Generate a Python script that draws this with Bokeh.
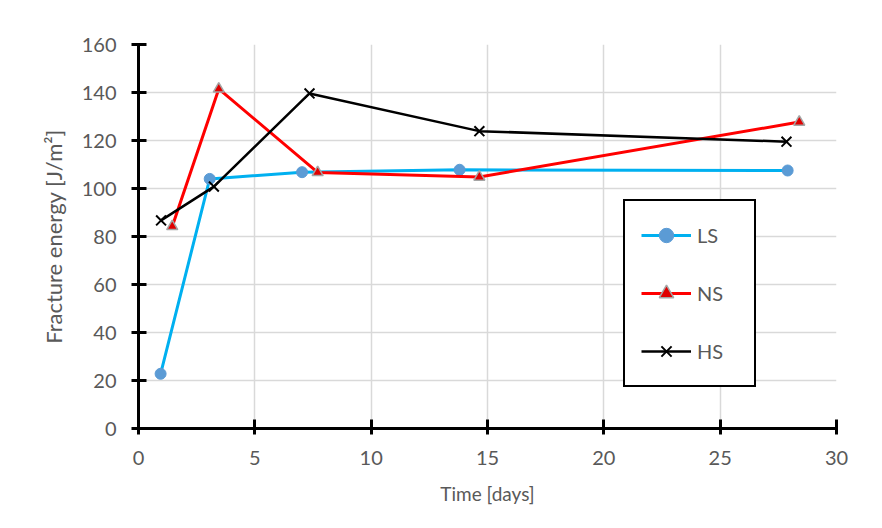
from bokeh.plotting import figure
from bokeh.models import Range1d, FixedTicker, Legend, LegendItem, BoxAnnotation
from bokeh.embed import file_html
from bokeh.resources import INLINE

# ---- data ----
ls_x = [0.95, 3.06, 7.03, 13.8, 27.9]
ls_y = [22.8, 104.0, 106.8, 107.8, 107.5]
ns_x = [1.45, 3.45, 7.7, 14.65, 28.4]
ns_y = [84.2, 141.5, 106.7, 104.8, 127.7]
hs_x = [0.97, 3.24, 7.35, 14.65, 27.85]
hs_y = [86.7, 100.8, 139.6, 123.9, 119.5]
x_ticks = [0, 5, 10, 15, 20, 25, 30]
y_ticks = [0, 20, 40, 60, 80, 100, 120, 140, 160]
series_names = ["LS", "NS", "HS"]

FONT = "Lato"
GRAY_TXT = "#595959"

p = figure(frame_width=698, frame_height=384,
           min_border_left=138, min_border_top=44,
           min_border_right=38, min_border_bottom=90,
           x_range=Range1d(0, 30), y_range=Range1d(0, 160),
           output_backend="svg", toolbar_location=None,
           background_fill_color="white", border_fill_color="white")
p.outline_line_color = None

# outer chart border (light gray)
p.add_layout(BoxAnnotation(left=9, right=1000, top=8, bottom=1000,
                           left_units="canvas", right_units="canvas",
                           top_units="canvas", bottom_units="canvas",
                           fill_alpha=0, line_color="#d9d9d9", line_width=1.5,
                           level="underlay"))

# grid
p.xgrid.ticker = FixedTicker(ticks=x_ticks)
p.ygrid.ticker = FixedTicker(ticks=y_ticks)
for g in (p.xgrid, p.ygrid):
    g.grid_line_color = "#d9d9d9"
    g.grid_line_width = 1.5

# axes
p.xaxis.ticker = FixedTicker(ticks=x_ticks)
p.yaxis.ticker = FixedTicker(ticks=y_ticks)
for ax in (p.xaxis, p.yaxis):
    ax.axis_line_color = "black"
    ax.axis_line_width = 3
    ax.major_tick_line_color = "black"
    ax.major_tick_line_width = 3
    ax.minor_tick_line_color = None
    ax.major_label_text_font = FONT
    ax.major_label_text_font_size = "20px"
    ax.major_label_text_color = GRAY_TXT
    ax.axis_label_text_font = FONT
    ax.axis_label_text_font_style = "normal"
    ax.axis_label_text_color = GRAY_TXT

p.xaxis.major_tick_in = 9
p.xaxis.major_tick_out = 6
p.xaxis.major_label_standoff = 16
p.xaxis.axis_label = "Time [days]"
p.xaxis.axis_label_text_font_size = "19px"
p.xaxis.axis_label_standoff = 14

p.yaxis.major_tick_in = 8
p.yaxis.major_tick_out = 7
p.yaxis.major_label_standoff = 15
p.yaxis.axis_label = "Fracture energy [J/m²]"
p.yaxis.axis_label_text_font_size = "22px"
p.yaxis.axis_label_standoff = 12

# series
ls_line = p.line(ls_x, ls_y, line_color="#00b0f0", line_width=3)
ls_mark = p.scatter(ls_x, ls_y, marker="circle", size=11,
                    fill_color="#5b9bd5", line_color="#5b9bd5")
ns_line = p.line(ns_x, ns_y, line_color="#ff0000", line_width=3)
ns_mark = p.scatter(ns_x, ns_y, marker="triangle", size=11,
                    fill_color="#e00000", line_color="#a5a5a5", line_width=1.5)
hs_line = p.line(hs_x, hs_y, line_color="black", line_width=2.5)
hs_mark = p.scatter(hs_x, hs_y, marker="x", size=14,
                    line_color="black", line_width=2)

legend = Legend(items=[
    LegendItem(label=series_names[0], renderers=[ls_line, ls_mark]),
    LegendItem(label=series_names[1], renderers=[ns_line, ns_mark]),
    LegendItem(label=series_names[2], renderers=[hs_line, hs_mark]),
], location=(485, 41))
legend.border_line_color = "black"
legend.border_line_width = 2
legend.border_line_alpha = 1
legend.background_fill_color = "white"
legend.background_fill_alpha = 1
legend.margin = 0
legend.padding = 16
legend.spacing = 22
legend.glyph_height = 36
legend.label_height = 36
legend.glyph_width = 50
legend.label_standoff = 6
legend.label_width = 41
legend.label_text_font = FONT
legend.label_text_font_size = "20px"
legend.label_text_color = GRAY_TXT
p.add_layout(legend, "center")

open("out.html", "w").write(file_html(p, INLINE))
